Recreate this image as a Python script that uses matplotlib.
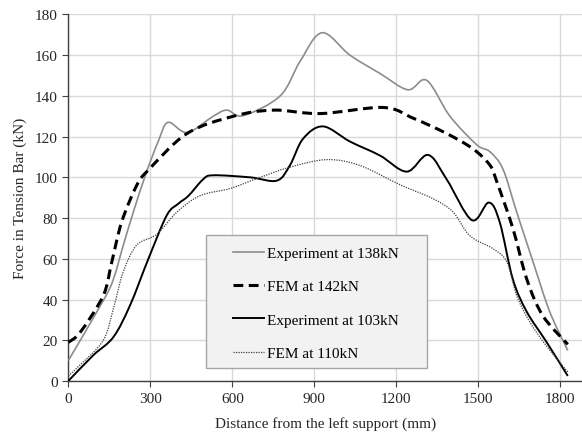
import matplotlib
matplotlib.use("Agg")
import matplotlib.pyplot as plt
import numpy as np
from matplotlib.path import Path
from matplotlib.patches import PathPatch, Rectangle
from matplotlib.lines import Line2D

# values (distance in mm, force in kN)
exp138_x = [0, 128, 165, 201, 238, 284, 330, 365, 435, 530, 580, 640, 775, 848, 928, 1030, 1140,
            1242, 1311, 1396, 1494, 1542, 1590, 1640, 1700, 1761, 1827]
exp138_y = [10, 39.5, 50, 66.6, 83, 101.8, 118, 127, 122, 130, 133, 130.3, 140, 157, 171, 160, 151,
            143, 147.6, 130, 116, 112.6, 104, 83, 58.5, 34, 15]

fem142_x = [0, 44, 128, 159, 195, 250, 293, 434, 604, 750, 921, 1152, 1262, 1384, 1480, 1542,
            1567, 1626, 1677, 1736, 1827]
fem142_y = [19, 24, 42, 58.4, 78, 96, 103.6, 121.5, 130, 133, 131.3, 134.3, 129, 121.5, 114, 106,
            98, 75, 50, 32, 18]

exp103_x = [0, 91, 165, 226, 293, 360, 402, 440, 493, 530, 665, 763, 811, 859, 932, 1030, 1140,
            1238, 1316, 1384, 1476, 1538, 1578, 1626, 1677, 1750, 1827]
exp103_y = [0, 12.6, 21.6, 37.2, 60, 81.3, 87, 91, 99, 101, 100, 98.4, 106, 119, 125, 117.6,
            110.7, 102.8, 111, 99, 79, 87.6, 78, 50, 34, 19, 2.5]

fem110_x = [0, 44, 128, 165, 201, 250, 323, 398, 482, 592, 690, 811, 946, 1067, 1213, 1334,
            1407, 1469, 1553, 1604, 1640, 1688, 1750, 1827]
fem110_y = [2.5, 8, 20, 35.5, 53.6, 66.7, 72, 83, 91, 94.5, 99.4, 105, 108.7, 105.8, 96.4, 89.5,
            83, 71.3, 65, 58.5, 42, 29, 17, 4.5]

labels = ["Experiment at 138kN", "FEM at 142kN", "Experiment at 103kN", "FEM at 110kN"]

plt.rcParams['font.family'] = ['Liberation Serif', 'DejaVu Serif']


def smooth_path(xs, ys):
    # Excel-like smoothed line: Catmull-Rom segments as cubic Bezier curves
    x = np.asarray(xs, float)
    y = np.asarray(ys, float)
    n = len(x)
    verts = [(x[0], y[0])]
    codes = [Path.MOVETO]
    t = 1.0 / 6.0
    for i in range(n - 1):
        p0 = (x[max(i - 1, 0)], y[max(i - 1, 0)])
        p1 = (x[i], y[i])
        p2 = (x[i + 1], y[i + 1])
        p3 = (x[min(i + 2, n - 1)], y[min(i + 2, n - 1)])
        c1 = (p1[0] + (p2[0] - p0[0]) * t, p1[1] + (p2[1] - p0[1]) * t)
        c2 = (p2[0] - (p3[0] - p1[0]) * t, p2[1] - (p3[1] - p1[1]) * t)
        verts += [c1, c2, p2]
        codes += [Path.CURVE4] * 3
    return Path(verts, codes)


fig = plt.figure(figsize=(5.82, 4.39), dpi=100)
ax = fig.add_axes([68.3 / 582, 57 / 439, (582 - 68.3) / 582, 366.6 / 439])

styles = [
    dict(color='#8c8c8c', lw=1.2, ls='-'),
    dict(color='black', lw=2.2, ls=(0, (3.2, 1.8))),
    dict(color='black', lw=1.4, ls='-'),
    dict(color='#404040', lw=0.9, ls=(0, (1, 1))),
]
series = [(exp138_x, exp138_y), (fem142_x, fem142_y), (exp103_x, exp103_y), (fem110_x, fem110_y)]

handles = []
for (xs, ys), st, lab in zip(series, styles, labels):
    patch = PathPatch(smooth_path(xs, ys), fill=False, edgecolor=st['color'],
                      lw=st['lw'], ls=st['ls'], capstyle='butt', zorder=3)
    ax.add_patch(patch)
    handles.append(Line2D([], [], color=st['color'], lw=st['lw'], ls=st['ls'], label=lab))

ax.set_xlim(0, 1879)
ax.set_ylim(0, 180)
ax.set_xticks([0, 300, 600, 900, 1200, 1500, 1800])
ax.set_yticks(np.arange(0, 181, 20))
ax.grid(True, color='#d9d9d9', lw=1.0)
ax.set_axisbelow(True)
for s in ['top', 'right']:
    ax.spines[s].set_visible(False)
for s in ['left', 'bottom']:
    ax.spines[s].set_color('#404040')
    ax.spines[s].set_linewidth(1.0)
ax.tick_params(axis='both', direction='out', length=4, color='#404040', labelsize=11,
               labelcolor='#262626')
ax.tick_params(axis='x', pad=4)
ax.set_xlabel("Distance from the left support (mm)", fontsize=11, color='#262626', labelpad=8)
ax.set_ylabel("Force in Tension Bar (kN)", fontsize=11, color='#262626', labelpad=6)

# legend box (Excel style: entries centred inside a grey frame)
bx0, by0 = (206 - 68.3) / 513.7, (382.3 - 369) / 366.6
bw, bh = 221 / 513.7, 133 / 366.6
ax.add_patch(Rectangle((bx0, by0), bw, bh, transform=ax.transAxes, facecolor='#f2f2f2',
                       edgecolor='#a6a6a6', lw=1.0, zorder=5))
leg = ax.legend(handles=handles, loc='center',
                bbox_to_anchor=(bx0 + bw / 2 - 0.001, by0 + bh / 2 - 2 / 366.6),
                fontsize=11, frameon=False, handlelength=2.0, handletextpad=0.2,
                labelspacing=1.29, borderaxespad=0, borderpad=0)
leg.set_zorder(6)

fig.savefig('out.png', dpi=100)
